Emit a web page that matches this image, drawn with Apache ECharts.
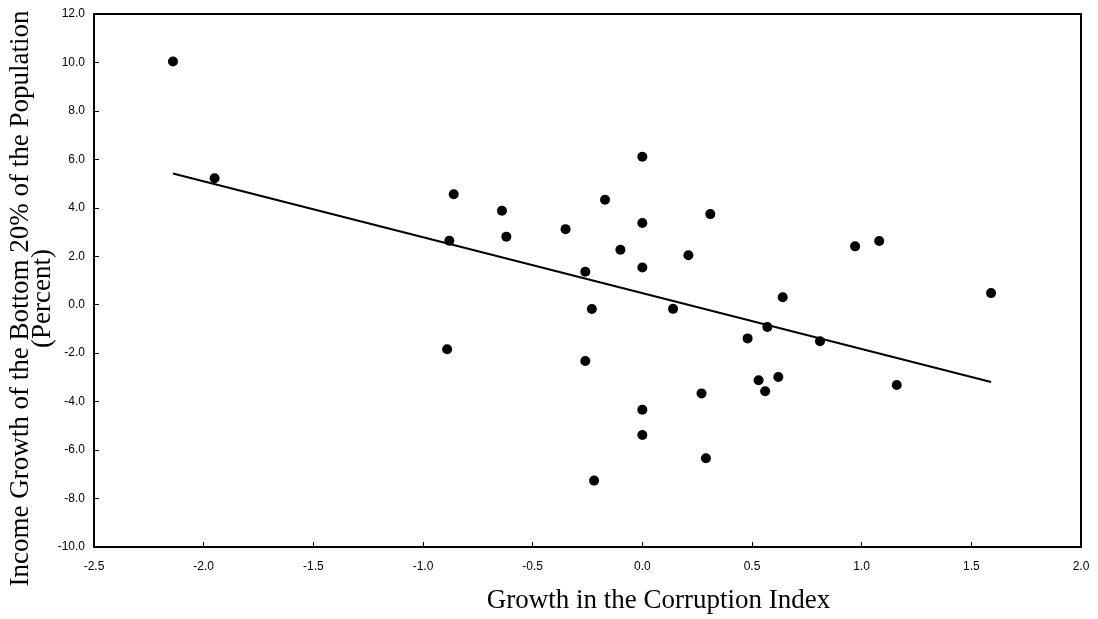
<!DOCTYPE html>
<html>
<head>
<meta charset="utf-8">
<script src="https://cdn.jsdelivr.net/npm/echarts@6/dist/echarts.min.js"></script>
<style>html,body{margin:0;padding:0;background:#fff}#c{width:1098px;height:619px}</style>
</head>
<body>
<div id="c"></div>
<script>
var xValues = [-2.14,-1.95,-0.86,-0.64,-0.88,-0.62,-0.35,-0.17,0.0,0.0,-0.10,0.0,0.21,-0.26,-0.23,0.14,-0.89,
  0.57,0.48,-0.26,0.53,0.62,0.56,0.27,0.0,0.0,0.29,-0.22,
  0.31,0.97,1.08,0.64,1.59,0.81,1.16];
var yValues = [10.04,5.22,4.56,3.88,2.64,2.81,3.12,4.33,6.11,3.37,2.27,1.54,2.04,1.36,-0.18,-0.17,-1.84,
  -0.92,-1.39,-2.32,-3.12,-2.98,-3.57,-3.66,-4.33,-5.38,-6.34,-7.26,
  3.74,2.41,2.63,0.31,0.48,-1.51,-3.31];
var trendX = [-2.14, 1.59];
var trendY = [5.42, -3.19];
var xTitle = 'Growth in the Corruption Index';
var yTitle = 'Income Growth of the Bottom 20% of the Population\n(Percent)';

var pts = xValues.map(function(x,i){return [x, yValues[i]];});
var line = trendX.map(function(x,i){return [x, trendY[i]];});
var chart = echarts.init(document.getElementById('c'), null, {renderer:'canvas'});
chart.setOption({
  animation:false,
  backgroundColor:'#fff',
  grid:{left:94, top:14, right:17, bottom:72, containLabel:false, outerBoundsMode:'none',
    show:true, borderColor:'#000', borderWidth:2, backgroundColor:'transparent'},
  xAxis:{type:'value', min:-2.5, max:2.0, interval:0.5,
    name:xTitle, nameLocation:'middle', nameGap:40, nameMoveOverlap:false,
    nameTextStyle:{fontFamily:'Liberation Serif', fontSize:27, color:'#000', lineHeight:27, padding:[0,0,0,142]},
    axisLine:{show:true, onZero:false, lineStyle:{color:'#000', width:2}},
    axisTick:{show:true, inside:true, length:5, lineStyle:{color:'#000', width:1}},
    axisLabel:{fontFamily:'Liberation Sans', fontSize:12, color:'#000', margin:14,
      formatter:function(v){return v.toFixed(1);}},
    splitLine:{show:false}},
  yAxis:{type:'value', min:-10, max:12, interval:2,
    name:yTitle, nameLocation:'middle', nameGap:40, nameMoveOverlap:false,
    nameTextStyle:{fontFamily:'Liberation Serif', fontSize:27, color:'#000', lineHeight:22, padding:[0,36,0,0]},
    axisLine:{show:true, onZero:false, lineStyle:{color:'#000', width:2}},
    axisTick:{show:true, inside:true, length:5, lineStyle:{color:'#000', width:1}},
    axisLabel:{fontFamily:'Liberation Sans', fontSize:12, color:'#000', margin:9,
      formatter:function(v){return v.toFixed(1);}},
    splitLine:{show:false}},
  series:[
    {type:'line', data:line, symbol:'none', lineStyle:{color:'#000', width:2}, z:2},
    {type:'scatter', data:pts, symbol:'circle', symbolSize:10, itemStyle:{color:'#000', opacity:1}, z:3}
  ]
});
</script>
</body>
</html>
